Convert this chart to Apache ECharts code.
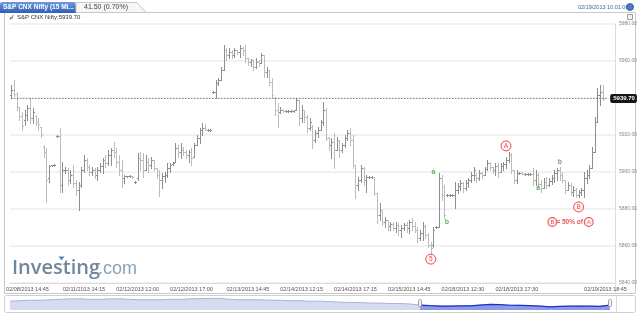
<!DOCTYPE html>
<html>
<head>
<meta charset="utf-8">
<script src="https://cdn.jsdelivr.net/npm/echarts@6/dist/echarts.min.js"></script>
<style>html,body{margin:0;padding:0;background:#fff}#c{width:640px;height:316px}</style>
</head>
<body>
<div id="c"></div>
<script>
// ---------- data ----------
const slotCount = 225;
const tickLabels = ['02/08/2013 14:45','02/11/2013 14:15','02/12/2013 12:00','02/12/2013 17:00','02/13/2013 14:45',
  '02/14/2013 12:15','02/14/2013 17:15','02/15/2013 14:45','02/18/2013 12:30','02/18/2013 17:30','02/19/2013 18:45'];
const tickIndex = [6,27,47,67,88,108,128,148,168,188,221];

const opens = [
5941.6,5944.3,5942.2,5935.1,5930.3,5928.1,5930.8,5934.6,5929.2,5930.3,
5927.0,5924.3,5913.5,5910.8,5896.8,5903.8,5903.8,5919.5,5919.5,5893.0,
5901.1,5901.1,5895.7,5898.4,5894.0,5890.3,5893.0,5901.1,5906.5,5902.7,
5900.0,5901.1,5898.4,5901.1,5903.2,5906.5,5904.9,5909.2,5911.9,5910.8,
5905.4,5901.1,5896.8,5897.8,5897.8,5897.8,5894.6,5896.8,5907.6,5906.5,
5901.1,5905.4,5903.8,5906.5,5902.2,5898.4,5895.7,5897.8,5898.4,5902.2,
5904.3,5905.4,5913.0,5910.8,5911.9,5910.8,5909.2,5910.8,5908.1,5914.6,
5918.4,5922.7,5923.8,5922.7,5922.7,5943.2,5943.2,5948.1,5949.7,5955.1,
5965.9,5963.2,5964.9,5963.2,5965.9,5964.9,5967.0,5965.9,5961.6,5959.5,
5960.5,5956.8,5959.5,5958.9,5963.2,5954.1,5955.1,5948.6,5940.0,5933.5,
5932.4,5933.5,5933.0,5933.0,5933.0,5933.0,5933.5,5938.9,5929.2,5933.5,
5929.7,5923.8,5924.3,5917.3,5921.1,5922.7,5927.0,5933.5,5918.4,5914.6,
5916.2,5911.9,5917.3,5911.9,5914.6,5918.4,5921.1,5917.3,5903.8,5893.0,
5895.7,5902.2,5895.7,5897.3,5897.3,5897.3,5888.6,5876.8,5879.5,5873.0,
5874.1,5870.8,5871.9,5869.7,5871.4,5868.6,5869.7,5871.4,5869.7,5873.0,
5870.8,5868.6,5864.3,5867.0,5870.8,5866.0,5860.5,5860.5,5870.3,5870.3,
5896.8,5887.6,5887.6,5887.6,5887.6,5887.6,5890.3,5892.4,5894.0,5891.3,
5894.0,5895.7,5898.4,5898.4,5896.8,5899.5,5898.4,5901.6,5904.9,5902.7,
5901.1,5903.2,5900.0,5903.2,5904.3,5906.5,5909.2,5901.1,5895.7,5899.5,
5899.5,5898.9,5898.9,5898.9,5898.9,5895.7,5898.4,5893.5,5891.3,5894.6,
5893.0,5895.1,5896.8,5899.5,5901.1,5898.4,5895.7,5890.3,5893.0,5889.2,
5890.3,5887.6,5889.2,5890.3,5896.8,5898.4,5902.2,5910.8,5927.0,5941.6,
5943.2];
const highs = [
5947.0,5949.7,5943.2,5935.1,5932.4,5933.5,5936.2,5940.0,5934.6,5930.8,
5929.2,5924.3,5914.6,5913.0,5903.8,5903.8,5904.3,5920.0,5923.8,5905.4,
5902.7,5902.2,5901.1,5903.8,5895.7,5894.6,5902.7,5909.2,5907.6,5903.8,
5902.7,5902.2,5902.7,5904.9,5907.6,5909.2,5911.9,5913.0,5916.2,5913.0,
5909.2,5906.5,5898.4,5897.8,5898.4,5897.8,5895.1,5910.3,5910.8,5910.3,
5909.2,5907.6,5908.1,5906.5,5902.2,5901.1,5899.5,5900.0,5904.9,5904.9,
5905.4,5915.7,5914.6,5915.7,5913.5,5911.9,5911.9,5913.0,5915.7,5920.0,
5923.8,5926.5,5925.9,5923.2,5923.2,5943.8,5949.7,5950.8,5956.8,5968.6,
5967.0,5967.0,5965.9,5967.0,5965.9,5968.6,5967.6,5968.6,5961.6,5961.1,
5960.5,5961.6,5960.5,5964.3,5963.2,5956.8,5955.1,5950.8,5940.5,5937.3,
5935.1,5934.1,5933.5,5933.5,5933.5,5933.5,5940.0,5938.9,5936.2,5933.5,
5930.8,5929.2,5925.4,5922.7,5924.3,5928.1,5937.8,5934.6,5918.9,5918.4,
5921.1,5918.9,5917.3,5915.7,5920.0,5922.7,5923.8,5920.0,5903.8,5897.3,
5903.8,5902.7,5898.4,5897.8,5897.8,5897.3,5888.6,5883.2,5879.5,5875.7,
5874.1,5873.0,5873.0,5873.0,5872.4,5871.4,5872.4,5873.0,5874.1,5875.1,
5873.0,5870.3,5868.6,5873.0,5871.4,5867.0,5862.2,5870.3,5870.8,5899.5,
5898.4,5893.0,5888.1,5888.1,5888.1,5894.6,5894.0,5895.7,5894.6,5895.7,
5896.8,5900.0,5902.7,5899.5,5901.1,5900.0,5902.7,5906.5,5905.4,5902.7,
5904.9,5904.9,5904.9,5905.4,5908.1,5910.8,5910.3,5901.1,5901.1,5900.0,
5900.0,5899.5,5899.5,5899.5,5902.2,5901.1,5899.5,5895.7,5896.8,5897.3,
5896.8,5898.4,5901.1,5902.2,5902.7,5900.0,5895.7,5894.6,5894.0,5892.4,
5891.3,5890.3,5891.3,5900.0,5901.1,5903.8,5913.5,5929.7,5945.4,5947.0,
5947.0];
const lows = [
5940.0,5941.1,5933.5,5928.1,5922.7,5925.4,5928.1,5926.5,5926.5,5925.4,
5922.7,5918.9,5908.1,5883.8,5894.6,5903.2,5903.2,5918.9,5889.2,5889.2,
5899.5,5893.0,5894.0,5891.9,5887.6,5879.5,5891.9,5900.0,5901.1,5898.4,
5898.4,5896.8,5895.7,5900.0,5899.5,5902.7,5903.8,5903.8,5908.1,5902.7,
5898.4,5891.9,5894.0,5897.3,5897.3,5896.8,5894.0,5895.7,5901.1,5897.3,
5901.1,5900.0,5902.2,5901.1,5896.8,5887.0,5891.3,5894.6,5897.3,5900.0,
5903.8,5905.4,5908.1,5907.6,5909.2,5907.6,5905.4,5903.8,5908.1,5914.6,
5915.7,5920.0,5922.7,5922.2,5922.2,5942.7,5940.0,5947.0,5949.7,5955.1,
5960.5,5961.6,5961.6,5962.2,5963.8,5962.2,5963.2,5959.5,5957.8,5957.3,
5955.1,5956.2,5957.3,5958.9,5951.3,5951.3,5947.0,5940.5,5930.8,5924.3,
5931.9,5932.4,5932.4,5932.4,5932.4,5932.4,5933.5,5925.4,5927.0,5927.0,
5921.6,5922.7,5913.0,5916.2,5918.9,5922.7,5925.4,5917.3,5911.9,5907.6,
5902.2,5911.9,5908.1,5910.8,5913.5,5917.3,5914.6,5902.2,5886.0,5890.3,
5894.6,5893.0,5889.2,5896.8,5896.8,5887.6,5872.4,5874.1,5871.4,5870.3,
5868.6,5868.6,5868.6,5867.6,5866.0,5864.9,5868.6,5867.6,5867.0,5868.6,
5867.6,5862.2,5863.2,5863.2,5864.3,5859.5,5854.1,5859.5,5869.7,5870.3,
5884.9,5875.1,5887.0,5887.0,5887.0,5880.5,5888.6,5890.3,5889.2,5890.3,
5891.9,5894.6,5895.7,5894.6,5895.7,5896.8,5898.4,5901.1,5901.1,5899.5,
5898.4,5897.3,5900.0,5901.1,5902.2,5905.4,5899.5,5894.0,5894.0,5898.9,
5898.9,5898.4,5898.4,5898.4,5893.0,5893.0,5891.9,5889.2,5891.3,5891.3,
5892.4,5893.5,5894.6,5895.7,5895.7,5894.6,5888.6,5890.3,5887.6,5887.0,
5886.5,5886.5,5887.6,5886.5,5894.0,5896.8,5902.2,5910.8,5927.0,5936.2,
5938.9];
const closes = [
5944.3,5942.2,5935.1,5930.3,5924.9,5930.8,5934.6,5929.2,5932.4,5927.0,
5925.9,5920.0,5910.8,5895.7,5903.2,5903.8,5903.8,5919.5,5893.0,5901.1,
5901.1,5895.7,5898.4,5894.0,5890.3,5893.0,5901.1,5906.5,5902.7,5900.0,
5901.1,5898.4,5901.1,5903.2,5906.5,5904.9,5909.2,5911.9,5910.8,5905.4,
5901.1,5896.8,5897.8,5897.8,5897.8,5897.3,5894.6,5907.6,5906.5,5901.1,
5905.4,5903.8,5906.5,5902.2,5898.4,5895.7,5897.8,5898.4,5902.2,5903.8,
5904.9,5913.0,5910.8,5911.9,5910.8,5909.2,5910.8,5907.6,5914.6,5918.4,
5922.7,5923.8,5923.2,5922.7,5922.7,5943.2,5948.1,5949.7,5955.1,5965.9,
5963.2,5964.9,5963.2,5965.9,5964.9,5967.0,5965.9,5961.6,5959.5,5960.5,
5956.8,5959.5,5958.9,5963.2,5954.1,5955.1,5948.6,5941.6,5933.5,5932.4,
5933.5,5933.0,5933.0,5933.0,5933.0,5933.5,5938.9,5929.2,5933.5,5929.7,
5923.8,5927.0,5917.3,5921.1,5922.7,5927.0,5933.5,5918.4,5914.6,5916.2,
5911.9,5917.3,5911.9,5914.6,5918.4,5921.1,5917.3,5903.8,5893.0,5895.7,
5902.2,5895.7,5897.3,5897.3,5897.3,5888.6,5876.8,5879.5,5873.0,5874.1,
5870.8,5871.9,5869.7,5871.4,5868.6,5869.7,5871.4,5869.7,5873.0,5870.8,
5868.6,5864.3,5867.0,5870.8,5866.0,5860.5,5859.0,5868.6,5870.3,5896.8,
5887.6,5876.8,5887.6,5887.6,5887.6,5890.3,5892.4,5894.0,5891.3,5894.0,
5895.7,5898.4,5901.1,5896.8,5899.5,5898.4,5901.6,5904.9,5902.7,5901.1,
5903.2,5900.0,5903.2,5904.3,5906.5,5909.2,5901.1,5895.7,5899.5,5899.5,
5898.9,5898.9,5898.9,5898.9,5895.7,5898.4,5893.5,5891.3,5894.6,5893.0,
5895.1,5896.8,5899.5,5901.1,5898.4,5895.7,5890.3,5893.0,5889.2,5890.3,
5887.6,5889.2,5890.3,5896.8,5898.4,5902.2,5910.8,5927.0,5941.6,5943.2,
5939.7];

// Elliott wave annotations: [label, category index, price]
const waveMarks = [['5',156,5852.9],['A',184,5914.1],['B',211,5881.1]];
const subMarks = [['a',157,5900.0],['b',162,5873.0],['a',196,5891.3],['b',204,5905.4]];
const noteMark = ['B = 50% of A',208,5873.0];

// navigator overview (longer history + current window)
const navValues = [
6093,6111,6130,6130,6148,6167,6185,6185,6167,6167,
6185,6185,6167,6148,6148,6148,6167,6167,6185,6194,
6204,6204,6167,6148,6148,6148,6130,6130,6111,6111,
6093,6093,6075,6056,6038,6038,6020,6020,6002,6002,
5983,5940,5915,5900,5900,5905,5910,5940,5965,5960,
5933,5930,5915,5895,5870,5890,5895,5900,5895,5890,
5940];
const navSelectStart = 41;

const yTicks = {min:5840, max:5980, step:20};
const lastPrice = 5939.70;

// ---------- build ----------
const categories = Array.from({length: slotCount}, (_, i) => {
  const k = tickIndex.indexOf(i); return k >= 0 ? tickLabels[k] : '';
});
const ohlc = opens.map((o, i) => [i, o, highs[i], lows[i], closes[i]]);
const navCats = navValues.map((_, i) => i);
const navSel = navValues.map((v, i) => i >= navSelectStart ? v : null);

const UP = '#8e8e8e', DOWN = '#bcbcbc';
const RED = '#e3262b', GREEN = '#3d9b35';
const FONT = 'Liberation Sans, Arial, sans-serif';

const chart = echarts.init(document.getElementById('c'));
chart.setOption({
  animation: false,
  backgroundColor: '#fff',
  grid: [
    {left: 10, right: 25, top: 24, bottom: 33},
    {left: 10, right: 30, top: 297, height: 13}
  ],
  xAxis: [
    {type: 'category', gridIndex: 0, data: categories, boundaryGap: true,
     axisTick: {show: false}, axisLine: {show: true, lineStyle: {color: '#dcdcdc'}},
     splitLine: {show: false},
     axisLabel: {interval: 0, margin: 3, fontSize: 5.5, color: '#555', fontFamily: FONT, hideOverlap: false}},
    {type: 'category', gridIndex: 1, data: navCats, boundaryGap: false, show: false}
  ],
  yAxis: [
    {type: 'value', gridIndex: 0, position: 'right', min: yTicks.min, max: yTicks.max, interval: yTicks.step,
     axisLine: {show: true, lineStyle: {color: '#dcdcdc'}}, axisTick: {show: false},
     splitLine: {show: true, lineStyle: {color: '#ececec', width: 1.5}},
     axisLabel: {margin: 4, fontSize: 5, color: '#888', fontFamily: FONT, formatter: v => v.toFixed(2)}},
    {type: 'value', gridIndex: 1, min: 5745, max: 6259, show: false}
  ],
  series: [
    {
      type: 'custom', name: 'bars', xAxisIndex: 0, yAxisIndex: 0,
      data: ohlc, encode: {x: 0, y: [1, 2, 3, 4]},
      renderItem: (params, api) => {
        const i = api.value(0);
        const o = api.coord([i, api.value(1)]);
        const h = api.coord([i, api.value(2)]);
        const l = api.coord([i, api.value(3)]);
        const c = api.coord([i, api.value(4)]);
        const x = Math.round(o[0]) + 0.5;
        const col = api.value(4) >= api.value(1) ? UP : DOWN;
        const yo = Math.round(o[1]) + 0.5, yc = Math.round(c[1]) + 0.5;
        return {type: 'group', children: [
          {type: 'line', shape: {x1: x, y1: Math.round(h[1]), x2: x, y2: Math.max(Math.round(l[1]) + 1, Math.round(h[1]) + 1)}, style: {stroke: col, lineWidth: 1}},
          {type: 'line', shape: {x1: x - 1.5, y1: yo, x2: x, y2: yo}, style: {stroke: col, lineWidth: 1}},
          {type: 'line', shape: {x1: x, y1: yc, x2: x + 1.5, y2: yc}, style: {stroke: col, lineWidth: 1}}
        ]};
      },
      z: 3
    },
    {
      type: 'scatter', name: 'waves', xAxisIndex: 0, yAxisIndex: 0,
      data: waveMarks.map(m => ({value: [m[1], m[2]], name: m[0]})),
      symbol: 'circle', symbolSize: 10,
      itemStyle: {color: '#fff4f4', borderColor: RED, borderWidth: 1},
      label: {show: true, position: 'inside', formatter: p => p.name, color: RED, fontSize: 6.5, fontFamily: FONT},
      z: 5,
      markLine: {
        silent: true, symbol: 'none',
        lineStyle: {type: [1, 2], color: '#555', width: 1},
        data: [[{coord: [0, lastPrice]}, {coord: [222, lastPrice]}]],
        label: {show: true, position: 'end', distance: 2, formatter: lastPrice.toFixed(2),
          backgroundColor: '#151515', color: '#fff', fontSize: 6, fontWeight: 'bold', fontFamily: FONT,
          padding: [2, 2, 1, 3], borderRadius: 2}
      }
    },
    {
      type: 'scatter', name: 'subwaves', xAxisIndex: 0, yAxisIndex: 0,
      data: subMarks.map(m => ({value: [m[1], m[2]], name: m[0]})),
      symbolSize: 0,
      label: {show: true, position: 'inside', formatter: p => p.name, color: GREEN, fontSize: 7, fontWeight: 'bold', fontFamily: FONT},
      z: 5
    },
    {
      type: 'scatter', name: 'note', xAxisIndex: 0, yAxisIndex: 0,
      data: [{value: [noteMark[1], noteMark[2]], name: noteMark[0]}],
      symbolSize: 0,
      label: {show: true, position: 'inside', formatter: '{c|B}{t|= 50% of }{c|A}',
        rich: {
          c: {width: 8, height: 8, align: 'center', borderRadius: 5, borderColor: RED, borderWidth: 1, backgroundColor: '#fff4f4', color: RED, fontSize: 6, fontFamily: FONT},
          t: {color: RED, fontSize: 6.5, fontWeight: 'bold', fontFamily: FONT}
        }},
      z: 5
    },
    {
      type: 'line', name: 'navAll', xAxisIndex: 1, yAxisIndex: 1, data: navValues,
      showSymbol: false, lineStyle: {color: '#a9b4df', width: 1}, areaStyle: {color: '#d6dbef', opacity: 1}, z: 2
    },
    {
      type: 'line', name: 'navSel', xAxisIndex: 1, yAxisIndex: 1, data: navSel,
      showSymbol: false, lineStyle: {color: '#1d2fc4', width: 1.2}, areaStyle: {color: '#8a9ce6', opacity: 1}, z: 3
    }
  ],
  graphic: [
    // outer frame
    {type: 'polyline', shape: {points: [[4.5, 12.5], [4.5, 293.5], [635.5, 293.5], [635.5, 12.5]]}, style: {stroke: '#c8c8c8', fill: null, lineWidth: 1}, silent: true},
    {type: 'line', shape: {x1: 146, y1: 12.5, x2: 635.5, y2: 12.5}, style: {stroke: '#c8c8c8', lineWidth: 1}, silent: true},
    {type: 'line', shape: {x1: 615.5, y1: 24, x2: 615.5, y2: 293}, style: {stroke: '#e2e2e2', lineWidth: 1}, silent: true},
    // tabs
    {type: 'rect', shape: {x: 0, y: 2, width: 76, height: 11, r: [2, 2, 0, 0]},
     style: {fill: new echarts.graphic.LinearGradient(0, 0, 0, 1, [{offset: 0, color: '#6d9be0'}, {offset: 1, color: '#2e5fb3'}])}, silent: true},
    {type: 'text', x: 3, y: 7.5, style: {text: 'S&P CNX Nifty (15 Mi...', fill: '#fff', font: 'bold 6.5px ' + FONT, textVerticalAlign: 'middle'}, silent: true},
    {type: 'polygon', shape: {points: [[76, 12.5], [76, 2.5], [137, 2.5], [146, 12.5]]}, style: {fill: '#f6f6f6', stroke: '#c8c8c8', lineWidth: 1}, silent: true},
    {type: 'text', x: 84, y: 7.5, style: {text: '41.50 (0.70%)', fill: '#444', font: '7px ' + FONT, textVerticalAlign: 'middle'}, silent: true},
    // subtitle
    {type: 'polyline', shape: {points: [[10, 20], [11, 17], [12, 18.5], [13, 15]]}, style: {stroke: '#555', fill: null, lineWidth: 0.8}, silent: true},
    {type: 'text', x: 17, y: 17.5, style: {text: 'S&P CNX Nifty:5939.70', fill: '#333', font: '6px ' + FONT, textVerticalAlign: 'middle'}, silent: true},
    // top right
    {type: 'text', x: 578, y: 7, style: {text: '02/19/2013 10:01:00', fill: '#3c5f9e', font: '5.5px ' + FONT, textVerticalAlign: 'middle'}, silent: true},
    {type: 'circle', shape: {cx: 630, cy: 7, r: 3.5}, style: {fill: '#4d78c8', stroke: '#2a4c90', lineWidth: 0.8}, silent: true},
    {type: 'rect', shape: {x: 627.5, y: 14.5, width: 5, height: 5}, style: {fill: '#f2f2f2', stroke: '#888', lineWidth: 0.8}, silent: true},
    // watermark
    {type: 'text', x: 12, y: 278, style: {text: 'Investing', fill: '#71859b', font: '600 20px Open Sans, ' + FONT, textVerticalAlign: 'bottom'}, silent: true, z: 0},
    {type: 'polygon', shape: {points: [[58.5, 256.5], [64.5, 256.5], [61.5, 260.5]]}, style: {fill: '#4f86c6'}, silent: true, z: 1},
    {type: 'text', x: 98, y: 278, style: {text: '.com', fill: '#8ea1b6', font: '18px Liberation Sans Narrow, ' + FONT, textVerticalAlign: 'bottom'}, silent: true, z: 0},
    // navigator frame and handles
    {type: 'rect', shape: {x: 4.5, y: 295.5, width: 631, height: 17, r: 2}, style: {fill: null, stroke: '#cfcfcf', lineWidth: 1}, silent: true},
    {type: 'line', shape: {x1: 616.5, y1: 296, x2: 616.5, y2: 312}, style: {stroke: '#dcdcdc', lineWidth: 1}, silent: true},
    {type: 'rect', shape: {x: 418.5, y: 299.5, width: 3, height: 7, r: 1}, style: {fill: '#f4f4f4', stroke: '#888', lineWidth: 0.8}, silent: true, z: 10},
    {type: 'rect', shape: {x: 608.5, y: 299.5, width: 3, height: 7, r: 1}, style: {fill: '#f4f4f4', stroke: '#888', lineWidth: 0.8}, silent: true, z: 10}
  ]
});
</script>
</body>
</html>
